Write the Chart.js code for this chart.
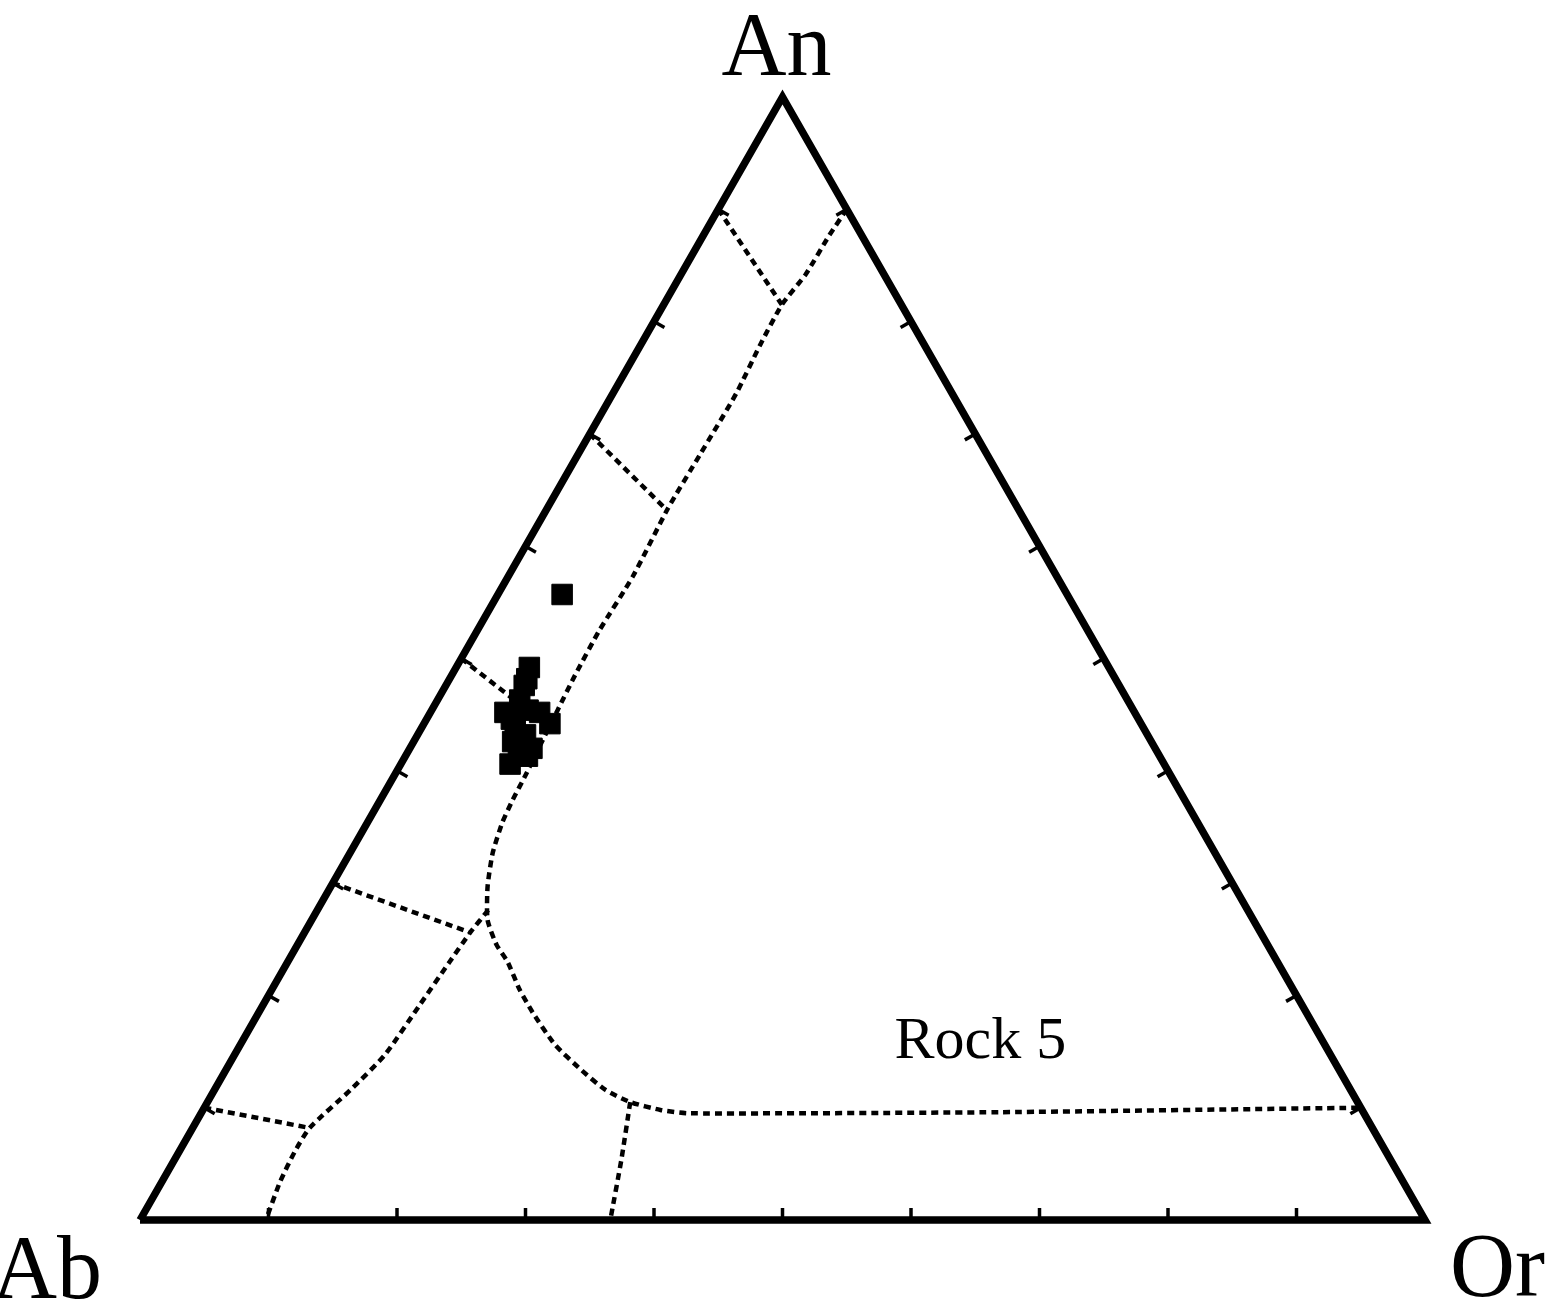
<!DOCTYPE html>
<html>
<head>
<meta charset="utf-8">
<title>Ab-An-Or feldspar ternary</title>
<script src="https://cdn.jsdelivr.net/npm/chart.js@4/dist/chart.umd.min.js"></script>
<style>
  html, body { margin: 0; padding: 0; background: #fff; }
  #ternary { display: block; }
</style>
</head>
<body>
<canvas id="ternary" width="1565" height="1314"></canvas>
<script>
// Ternary values in mol% (An, Or); Ab = 100 - An - Or

// Feldspar boundary running down from the An-Or side to the lower right
const solvusAn = [90, 87.7, 84.2, 81.5, 77.9, 73.6, 68.1, 63.4, 57.3, 52.5, 48.5, 45.4, 42.3, 39.6, 37.4, 35.4, 32.7, 29.7, 26.7, 24.5, 23.0, 20.5, 18.4, 15.6, 13.4, 11.6, 10.5, 9.8, 9.5, 9.6, 10];
const solvusOr = [10, 9.8, 9.7, 9.2, 9.3, 9.6, 9.5, 9.4, 9.7, 9.5, 9.6, 9.8, 10.0, 10.2, 10.3, 10.5, 11.1, 12.2, 13.7, 15.5, 17.1, 19.3, 21.4, 24.5, 27.6, 30.4, 32.9, 35.6, 38.0, 62.1, 90];

// Branch towards the Ab corner
const branchAn = [27.6, 25.6, 23.0, 19.2, 14.7, 11.6, 8.2, 6.1, 3.4, 0];
const branchOr = [13.3, 12.9, 12.6, 12.2, 11.7, 10.6, 9.1, 9.0, 9.2, 9.8];

// Short branch down to the Ab-Or side
const lowerAn = [10.5, 5.3, 0];
const lowerOr = [32.9, 34.8, 36.6];

// Tie lines from the Ab-An side to the boundary
const tieLines = [
  { an: [90, 81.5], or: [0, 9.2] },
  { an: [70, 63.5], or: [0, 9.0] },
  { an: [50, 46.3], or: [0, 6.0] },
  { an: [30, 25.6], or: [0, 12.9] },
  { an: [10, 8.2], or: [0, 9.1] }
];

// Analysed feldspar compositions
const sampleAn = [55.7, 49.2, 48.2, 47.6, 46.3, 45.2, 45.4, 45.2, 44.2, 43.8, 43.2, 42.0, 41.7, 41.3, 40.6, 44.6, 42.6];
const sampleOr = [5.0, 5.7, 6.0, 6.1, 6.4, 5.8, 7.5, 8.5, 9.8, 7.3, 8.4, 9.5, 8.6, 9.5, 8.5, 6.6, 7.7];

const tickValues = [10, 20, 30, 40, 50, 60, 70, 80, 90];
const cornerLabels = ['An', 'Ab', 'Or'];
const rockLabel = 'Rock 5';
const rockAt = { an: 15.8, or: 57.5 };

// ternary -> cartesian on a 0..100 grid
function toXY(an, or) {
  return { x: or + an / 2, y: an };
}
function series(an, or) {
  return an.map((a, i) => toXY(a, or[i]));
}

const frame = [toXY(0, 0), toXY(0, 100), toXY(100, 0), toXY(0, 0)];

const dashed = {
  type: 'scatter',
  showLine: true,
  pointRadius: 0,
  borderColor: '#000',
  borderWidth: 4.5,
  borderDash: [7, 5],
  fill: false,
  clip: false
};

const datasets = [
  Object.assign({}, dashed, { data: series(solvusAn, solvusOr), tension: 0.2 }),
  Object.assign({}, dashed, { data: series(branchAn, branchOr), tension: 0.2 }),
  Object.assign({}, dashed, { data: series(lowerAn, lowerOr), tension: 0.2 })
];
tieLines.forEach(t => {
  datasets.push(Object.assign({}, dashed, { data: series(t.an, t.or) }));
});
datasets.push({
  type: 'scatter',
  showLine: true,
  data: frame,
  pointRadius: 0,
  borderColor: '#000',
  borderWidth: 7.5,
  borderJoinStyle: 'miter',
  fill: false,
  clip: false
});
datasets.push({
  type: 'scatter',
  data: series(sampleAn, sampleOr),
  pointStyle: 'rect',
  pointRadius: 14.5,
  backgroundColor: '#000',
  borderColor: '#000',
  borderWidth: 1,
  clip: false
});

// inward ticks on the three sides plus the text labels
const ternaryDecor = {
  id: 'ternaryDecor',
  afterDatasetsDraw(chart) {
    const ctx = chart.ctx;
    const xs = chart.scales.x, ys = chart.scales.y;
    const px = p => ({ x: xs.getPixelForValue(p.x), y: ys.getPixelForValue(p.y) });
    const An = px(toXY(100, 0)), Ab = px(toXY(0, 0)), Or = px(toXY(0, 100));
    const cx = (An.x + Ab.x + Or.x) / 3, cy = (An.y + Ab.y + Or.y) / 3;

    const sides = [
      { a: Ab, b: Or, at: v => toXY(0, v) },        // Ab-Or
      { a: Ab, b: An, at: v => toXY(v, 0) },        // Ab-An
      { a: Or, b: An, at: v => toXY(v, 100 - v) }   // Or-An
    ];
    ctx.save();
    ctx.strokeStyle = '#000';
    ctx.lineWidth = 3.5;
    sides.forEach(s => {
      const dx = s.b.x - s.a.x, dy = s.b.y - s.a.y;
      const len = Math.hypot(dx, dy);
      let nx = -dy / len, ny = dx / len;
      const mx = (s.a.x + s.b.x) / 2, my = (s.a.y + s.b.y) / 2;
      if ((cx - mx) * nx + (cy - my) * ny < 0) { nx = -nx; ny = -ny; }
      tickValues.forEach(v => {
        const p = px(s.at(v));
        ctx.beginPath();
        ctx.moveTo(p.x, p.y);
        ctx.lineTo(p.x + nx * 12, p.y + ny * 12);
        ctx.stroke();
      });
    });

    ctx.fillStyle = '#000';
    ctx.font = '90px "Liberation Serif", "DejaVu Serif", serif';
    ctx.textBaseline = 'alphabetic';
    ctx.textAlign = 'center';
    ctx.fillText(cornerLabels[0], An.x - 6, An.y - 22);
    ctx.textAlign = 'right';
    ctx.fillText(cornerLabels[1], Ab.x - 38, Ab.y + 78);
    ctx.textAlign = 'left';
    ctx.fillText(cornerLabels[2], Or.x + 25, Or.y + 76);

    const r = px(toXY(rockAt.an, rockAt.or));
    ctx.font = '60px "Liberation Serif", "DejaVu Serif", serif';
    ctx.textAlign = 'center';
    ctx.textBaseline = 'middle';
    ctx.fillText(rockLabel, r.x, r.y);
    ctx.restore();
  }
};

new Chart(document.getElementById('ternary'), {
  type: 'scatter',
  data: { datasets: datasets },
  options: {
    responsive: false,
    animation: false,
    devicePixelRatio: 1,
    layout: { padding: { left: 140, right: 140, top: 97, bottom: 94 } },
    scales: {
      x: { type: 'linear', min: 0, max: 100, display: false },
      y: { type: 'linear', min: 0, max: 100, display: false }
    },
    plugins: {
      legend: { display: false },
      tooltip: { enabled: false }
    }
  },
  plugins: [ternaryDecor]
});
</script>
</body>
</html>
